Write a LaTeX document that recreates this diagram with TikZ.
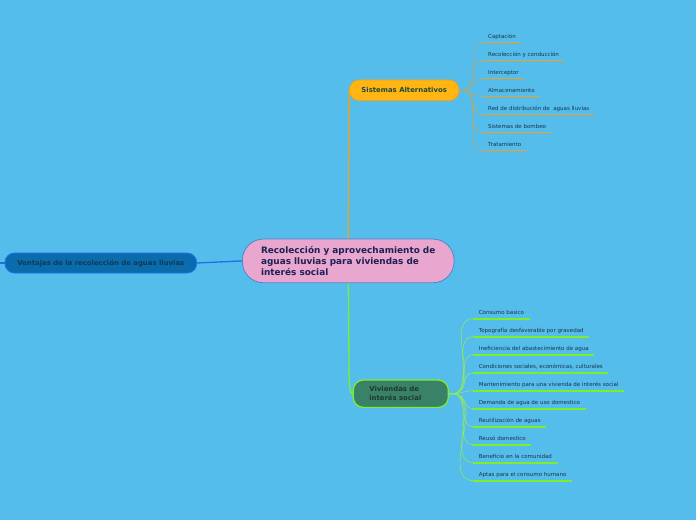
\documentclass[tikz,border=0pt]{standalone}
\usepackage{fontspec}
\setmainfont{DejaVu Sans}
\usetikzlibrary{backgrounds}
\definecolor{bgc}{HTML}{55BDEB}
\definecolor{cfill}{HTML}{E9A6CE}
\definecolor{cdraw}{HTML}{4F86CC}
\definecolor{ctext}{HTML}{1B2152}
\definecolor{safill}{HTML}{FFB514}
\definecolor{sadraw}{HTML}{F2A215}
\definecolor{satext}{HTML}{1E4A38}
\definecolor{vefill}{HTML}{0B6CAD}
\definecolor{vedraw}{HTML}{2070F0}
\definecolor{vetext}{HTML}{0E3A55}
\definecolor{vifill}{HTML}{3A8267}
\definecolor{vidraw}{HTML}{80F028}
\definecolor{vitext}{HTML}{1B3B2F}
\definecolor{itext}{HTML}{1A3348}
\definecolor{oline}{HTML}{F2A11C}
\definecolor{osub}{HTML}{B6A870}
\definecolor{gline}{HTML}{7EEE28}
\definecolor{gsub}{HTML}{8EE56A}
\definecolor{bline}{HTML}{1E6FE8}
\begin{document}
\begin{tikzpicture}[x=1pt,y=-1pt,
  central/.style={draw=cdraw, line width=0.8pt, fill=cfill, text=ctext, rounded corners=21pt,
    minimum width=211.7pt, minimum height=43.7pt, inner sep=0pt, align=left,
    font=\fontsize{8.9}{11}\selectfont\bfseries},
  lvl/.style={line width=0.8pt, inner sep=0pt, font=\fontsize{6.9}{9}\selectfont\bfseries},
  sabox/.style={lvl, draw=sadraw, fill=safill, text=satext, rounded corners=10pt,
    minimum width=109.7pt, minimum height=20.7pt},
  vebox/.style={lvl, draw=vedraw, fill=vefill, text=vetext, rounded corners=9.5pt,
    minimum width=191.7pt, minimum height=20pt},
  vibox/.style={lvl, draw=vidraw, line width=1.2pt, fill=vifill, text=vitext, rounded corners=10pt,
    minimum width=95pt, minimum height=27.3pt, text width=63pt, inner xsep=16pt, align=left},
  item/.style={anchor=south west, text=itext, inner ysep=2.6pt, text height=4.5pt, text depth=1.5pt,
    font=\fontsize{5.5}{6.6}\selectfont},
  sitem/.style={item, inner xsep=4.7pt},
  vitem/.style={item, inner xsep=5.4pt},
  sconn/.style={draw=osub, line width=0.6pt},
  vconn/.style={draw=gsub, line width=0.6pt},
  sul/.style={draw=oline, line width=1.6pt},
  vul/.style={draw=gline, line width=1.6pt},
  mainline/.style={line width=1.3pt}
]
\useasboundingbox (0,0) rectangle (696,520);
\begin{scope}[on background layer]
  \fill[bgc] (0,0) rectangle (696,520);
\end{scope}

\node[central] (c) at (348.2,260.9) {Recolección y aprovechamiento de\\aguas lluvias para viviendas de\\interés social};
\node[sabox] (sa) at (404.2,90.3) {Sistemas Alternativos};
\node[vebox] (ve) at (100.8,263) {Ventajas de la recolección de aguas lluvias};
\node[vibox] (vi) at (400.8,393.7) {Viviendas de\\interés social};
\coordinate (edge) at (0,263);

\foreach \t/\y [count=\i] in {Captación/42.3, Recolección y conducción/60.3, Interceptor/78.3,
    Almacenamiento/96.3, Red de distribución de~ aguas lluvias/114.3, Sistemas de bombeo/132.3,
    Tratamiento/150.3}
  {\node[sitem] (s\i) at (483.3,\y) {\t};}

\foreach \t/\y [count=\i] in {Consumo basico/318.7, Topografía desfavorable por gravedad/336.7,
    Ineficiencia del abastecimiento de agua/354.7, {Condiciones sociales, económicas, culturales}/372.7,
    Mantenimiento para una vivienda de interés social/390.7, Demanda de agua de uso domestico/408.7,
    Reutilización de aguas/426.7, Reusó domestico/444.7, Beneficio en la comunidad/462.7,
    Aptas para el consumo humano/480.7}
  {\node[vitem] (v\i) at (473.3,\y) {\t};}

\begin{scope}[on background layer]
  \draw[mainline, oline] (c.north) -- (sa.west);
  \draw[mainline, gline] (c.south) .. controls +(1.5,95) and +(-5,0) .. (vi.west);
  \draw[mainline, bline] (c.west) -- (ve.east);
  \draw[mainline, bline] (ve.west) -- (edge);
  \foreach \i in {1,...,7}
    {\draw[sconn] (sa.east) -- ++(3,0) to[out=0,in=180] (s\i.south west);}
  \foreach \i in {1,...,10}
    {\draw[vconn] (vi.east) -- ++(4,0) to[out=0,in=180] (v\i.south west);}
\end{scope}
\foreach \i in {1,...,7}
  {\draw[sul] (s\i.south west) -- (s\i.south east);}
\foreach \i in {1,...,10}
  {\draw[vul] (v\i.south west) -- (v\i.south east);}
\end{tikzpicture}
\end{document}
